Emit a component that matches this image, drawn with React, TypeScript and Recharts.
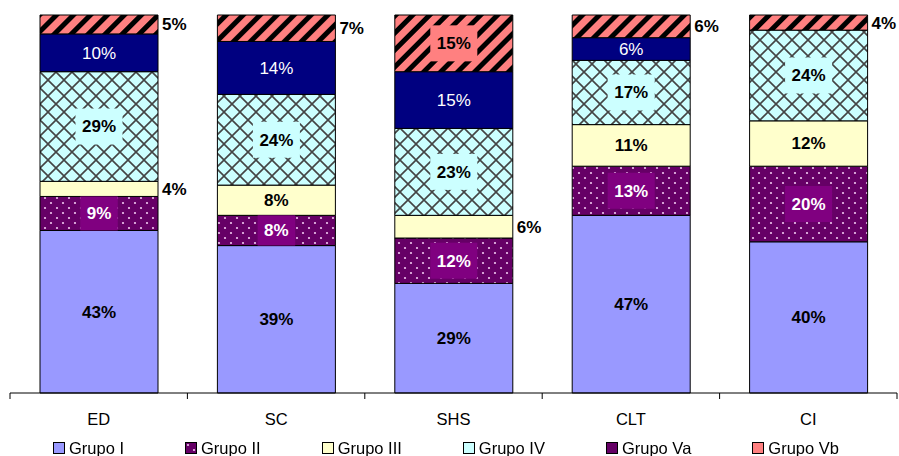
import React from 'react';
import { BarChart, Bar, XAxis, YAxis, Legend, LabelList } from 'recharts';

const categories = ['ED', 'SC', 'SHS', 'CLT', 'CI'];
const grupoI = [43, 39, 29, 47, 40];
const grupoII = [9, 8, 12, 13, 20];
const grupoIII = [4, 8, 6, 11, 12];
const grupoIV = [29, 24, 23, 17, 24];
const grupoVa = [10, 14, 15, 6, 0];
const grupoVb = [5, 7, 15, 6, 4];

const data = categories.map((name, i) => ({
  name,
  g1: grupoI[i],
  g2: grupoII[i],
  g3: grupoIII[i],
  g4: grupoIV[i],
  g5a: grupoVa[i],
  g5b: grupoVb[i],
}));

const FONT = 'Arial, "Liberation Sans", sans-serif';
const LABEL_SIZE = 17;
const WIDTH = 899;
const HEIGHT = 456;
const MARGIN = { top: 15, right: 2, left: 10, bottom: 0 };
const plotWidth = WIDTH - MARGIN.left - MARGIN.right;

type LabelCfg = { box?: string; color: string; bold: boolean; outsideBelow?: number };

const textWidth = (s: string, size: number) =>
  s.split('').reduce((w, c) => w + (c === '%' ? 0.889 : 0.556) * size, 0);

const makeLabel = (cfg: LabelCfg) => (props: any) => {
  const vb = props.viewBox || props;
  const { x, y, width, height } = vb;
  const value = props.value;
  if (!value) return null;
  const text = `${value}%`;
  const cy = y + height / 2;
  if (cfg.outsideBelow && value < cfg.outsideBelow) {
    return (
      <text x={x + width + 4} y={cy} dy="0.35em" fontFamily={FONT} fontSize={LABEL_SIZE} fontWeight="bold" fill="#000">
        {text}
      </text>
    );
  }
  const cx = x + width / 2;
  const bw = textWidth(text, LABEL_SIZE) + 13;
  const bh = Math.min(36, height);
  return (
    <g>
      {cfg.box && <rect x={cx - bw / 2} y={cy - bh / 2} width={bw} height={bh} fill={cfg.box} />}
      <text x={cx} y={cy} dy="0.35em" textAnchor="middle" fontFamily={FONT} fontSize={LABEL_SIZE}
        fontWeight={cfg.bold ? 'bold' : 'normal'} fill={cfg.color}>
        {text}
      </text>
    </g>
  );
};

// category label plus tick marks on the band edges
const CategoryTick = (props: any) => {
  const { x, y, payload, index, visibleTicksCount } = props;
  const half = payload?.offset || plotWidth / categories.length / 2;
  const last = index === (visibleTicksCount ?? categories.length) - 1;
  return (
    <g>
      <line x1={x - half} y1={y} x2={x - half} y2={y + 6} stroke="#000" />
      {last && <line x1={x + half} y1={y} x2={x + half} y2={y + 6} stroke="#000" />}
      <text x={x} y={y + 26} dy="0.35em" textAnchor="middle" fontFamily={FONT} fontSize={16.5} fill="#000">
        {payload.value}
      </text>
    </g>
  );
};

const legendItems = [
  { label: 'Grupo I', fill: '#9999FF' },
  { label: 'Grupo II', fill: 'url(#dots)' },
  { label: 'Grupo III', fill: '#FFFFCC' },
  { label: 'Grupo IV', fill: '#CCFFFF' },
  { label: 'Grupo Va', fill: '#660066' },
  { label: 'Grupo Vb', fill: '#FF8080' },
];

const LegendBox = () => (
  <div style={{ display: 'flex', alignItems: 'center', height: 18, paddingLeft: 53, paddingTop: 2, boxSizing: 'border-box',
    fontFamily: FONT, fontSize: 16.5, color: '#000' }}>
    {legendItems.map((it) => (
      <div key={it.label} style={{ display: 'flex', alignItems: 'center', marginRight: 61 }}>
        <svg width={12} height={12} style={{ marginRight: 4 }}>
          <rect x={0.5} y={0.5} width={11} height={11} fill={it.fill} stroke="#000" strokeWidth={1} />
        </svg>
        <span style={{ whiteSpace: 'nowrap' }}>{it.label}</span>
      </div>
    ))}
  </div>
);

export default function App() {
  return (
    <div style={{ position: 'fixed', left: 0, top: 0, width: WIDTH, height: HEIGHT, background: '#fff' }}>
      <BarChart width={WIDTH} height={HEIGHT} data={data} margin={MARGIN} barSize={118}>
        <defs>
          <pattern id="dots" width={12} height={10} patternUnits="userSpaceOnUse">
            <rect width={12} height={10} fill="#660066" />
            <circle cx={3} cy={3} r={1.1} fill="#F0C8F0" />
            <circle cx={9} cy={8} r={1.1} fill="#F0C8F0" />
          </pattern>
          <pattern id="grid" width={16} height={16} patternUnits="userSpaceOnUse">
            <rect width={16} height={16} fill="#CCFFFF" />
            <path d="M0,0 L16,16 M16,0 L0,16" stroke="#444" strokeWidth={1.6} />
          </pattern>
          <pattern id="stripes" width={12} height={12} patternUnits="userSpaceOnUse" patternTransform="rotate(45)">
            <rect width={12} height={12} fill="#FF8080" />
            <rect width={5} height={12} fill="#000" />
          </pattern>
        </defs>
        <XAxis dataKey="name" axisLine={{ stroke: '#000' }} tickLine={false} tickSize={0} tickMargin={0} height={45}
          tick={<CategoryTick />} interval={0} />
        <YAxis hide domain={[0, 100]} />
        <Legend verticalAlign="bottom" height={18} content={<LegendBox />}
          wrapperStyle={{ left: 0, bottom: 0, width: WIDTH, height: 18 }} />
        <Bar dataKey="g1" stackId="s" fill="#9999FF" stroke="#000" strokeWidth={1} isAnimationActive={false}>
          <LabelList dataKey="g1" content={makeLabel({ color: '#000', bold: true })} />
        </Bar>
        <Bar dataKey="g2" stackId="s" fill="url(#dots)" stroke="#000" strokeWidth={1} isAnimationActive={false}>
          <LabelList dataKey="g2" content={makeLabel({ box: '#800080', color: '#fff', bold: true })} />
        </Bar>
        <Bar dataKey="g3" stackId="s" fill="#FFFFCC" stroke="#000" strokeWidth={1} isAnimationActive={false}>
          <LabelList dataKey="g3" content={makeLabel({ color: '#000', bold: true, outsideBelow: 8 })} />
        </Bar>
        <Bar dataKey="g4" stackId="s" fill="url(#grid)" stroke="#000" strokeWidth={1} isAnimationActive={false}>
          <LabelList dataKey="g4" content={makeLabel({ box: '#CCFFFF', color: '#000', bold: true })} />
        </Bar>
        <Bar dataKey="g5a" stackId="s" fill="#000080" stroke="#000" strokeWidth={1} isAnimationActive={false}>
          <LabelList dataKey="g5a" content={makeLabel({ color: '#fff', bold: false })} />
        </Bar>
        <Bar dataKey="g5b" stackId="s" fill="url(#stripes)" stroke="#000" strokeWidth={1} isAnimationActive={false}>
          <LabelList dataKey="g5b" content={makeLabel({ box: '#FF8080', color: '#000', bold: true, outsideBelow: 8 })} />
        </Bar>
      </BarChart>
    </div>
  );
}
